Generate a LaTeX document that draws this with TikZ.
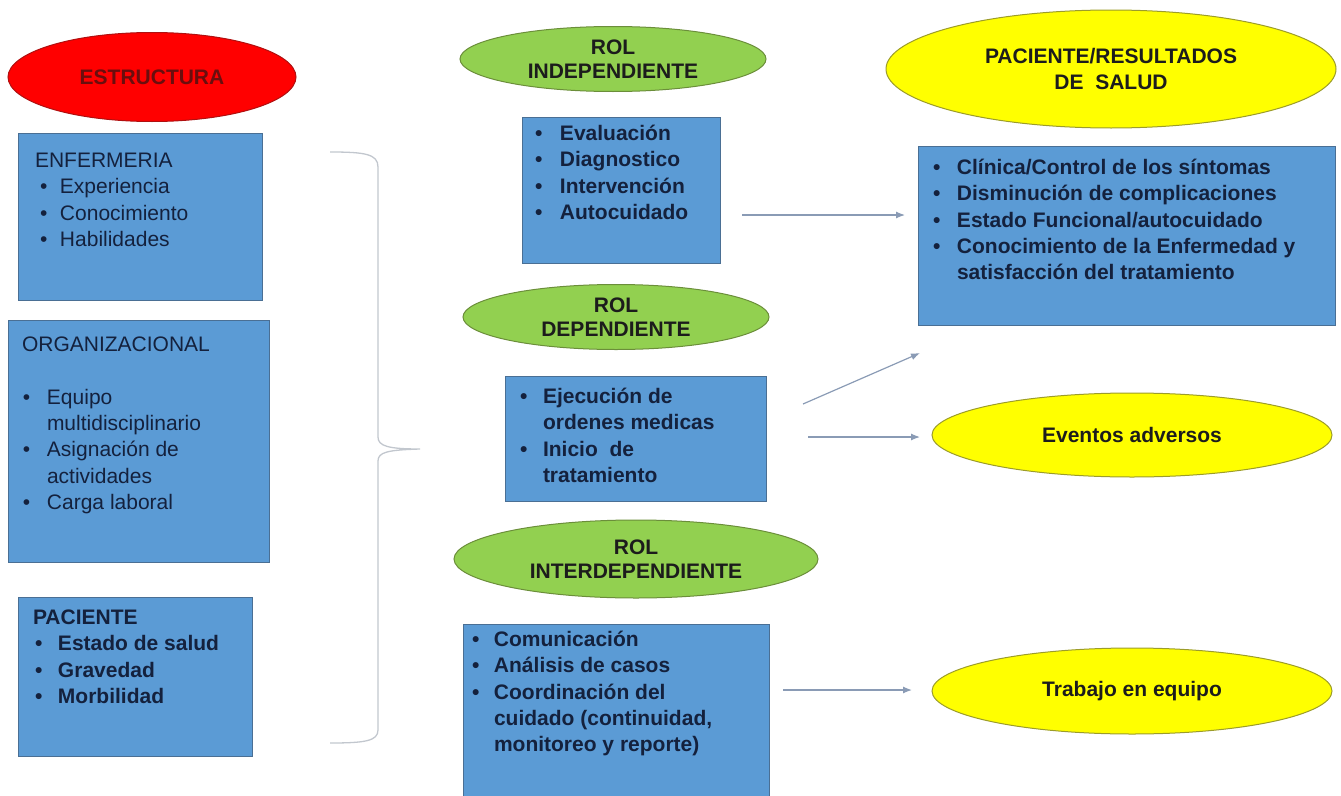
\documentclass[tikz,border=0pt]{standalone}
\usepackage{fontspec}
\setmainfont{Liberation Sans}
\usetikzlibrary{shapes.geometric,arrows.meta}
\definecolor{boxblue}{HTML}{5B9BD5}
\definecolor{boxedge}{HTML}{4A6F94}
\definecolor{navy}{HTML}{14213D}
\definecolor{lgreen}{HTML}{92D050}
\definecolor{dgreen}{HTML}{6B8E3A}
\definecolor{yell}{HTML}{FFFF00}
\definecolor{yedge}{HTML}{9C9C2A}
\definecolor{redfill}{HTML}{FF0000}
\definecolor{redge}{HTML}{B01010}
\definecolor{redink}{HTML}{6A0E0E}
\definecolor{ellink}{HTML}{1C1C1C}
\definecolor{arrowgray}{HTML}{8A9BB5}
\definecolor{bracegray}{HTML}{C2C7CE}
\newlength\bulin
\newlength\bgap
\newcommand\bi[1]{\hspace*{\bulin}\makebox[\bgap][l]{\textbullet}#1}
\newcommand\bc[1]{\hspace*{\dimexpr\bulin+\bgap\relax}#1}
\begin{document}
\begin{tikzpicture}[x=1pt,y=-1pt,
  every node/.style={inner sep=0pt,outer sep=0pt},
  bluebox/.style={draw=boxedge,fill=boxblue,line width=0.8pt,anchor=north west},
  btext/.style 2 args={anchor=north west,align=left,text=navy,
    font=\fontsize{21}{26.3}\selectfont,
    execute at begin node={\setlength{\bulin}{#1}\setlength{\bgap}{#2}}},
  bbtext/.style 2 args={btext={#1}{#2},font=\fontsize{21}{26.3}\selectfont\bfseries},
  ell/.style={ellipse,line width=1pt,align=center,text=ellink,
    font=\fontsize{21}{24}\selectfont\bfseries},
  greenell/.style={ell,fill=lgreen,draw=dgreen},
  yellell/.style={ell,fill=yell,draw=yedge},
  redell/.style={ell,fill=redfill,draw=redge,text=redink},
  arr/.style={draw=arrowgray,line width=1.2pt,-{Latex[length=9pt,width=7pt]}},
  bracestyle/.style={draw=bracegray,line width=1.3pt}
]
\useasboundingbox (0,0) rectangle (1341,795);

% left column
\node[redell,minimum width=288pt,minimum height=89pt] (estr) at (152,77) {ESTRUCTURA};

\node[bluebox,minimum width=244pt,minimum height=167pt] (enf) at (18,133) {};
\node[btext={5pt}{20pt}] (enft) at (35,153)
  {ENFERMERIA\\\bi{Experiencia}\\\bi{Conocimiento}\\\bi{Habilidades}};

\node[bluebox,minimum width=261pt,minimum height=242pt] (org) at (8,320) {};
\node[btext={1pt}{24pt}] (orgt) at (22,337)
  {ORGANIZACIONAL\\[26.3pt]\bi{Equipo}\\\bc{multidisciplinario}\\\bi{Asignación de}\\\bc{actividades}\\\bi{Carga laboral}};

\node[bluebox,minimum width=234pt,minimum height=159pt] (pac) at (18,597) {};
\node[bbtext={2pt}{23pt}] (pact) at (33,610)
  {PACIENTE\\\bi{Estado de salud}\\\bi{Gravedad}\\\bi{Morbilidad}};

% brace
\coordinate (btop) at (330,152);
\coordinate (btip) at (420,449);
\coordinate (bbot) at (330,743);
\draw[bracestyle] (btop) .. controls (365,152) and (378,154) .. (378,167) -- (378,437)
  .. controls (378,446) and (388,449) .. (btip)
  .. controls (388,450) and (378,452) .. (378,461) -- (378,730)
  .. controls (378,741) and (365,743) .. (bbot);

% middle column
\node[greenell,minimum width=306pt,minimum height=65pt] (rind) at (613,59) {ROL\\INDEPENDIENTE};
\node[bluebox,minimum width=198pt,minimum height=146pt] (ind) at (522,117) {};
\node[bbtext={0pt}{25pt}] (indt) at (535,125)
  {\bi{Evaluación}\\\bi{Diagnostico}\\\bi{Intervención}\\\bi{Autocuidado}};

\node[greenell,minimum width=306pt,minimum height=65pt] (rdep) at (616,317) {ROL\\DEPENDIENTE};
\node[bluebox,minimum width=261pt,minimum height=125pt] (dep) at (505,376) {};
\node[bbtext={0pt}{23pt}] (dept) at (520,388)
  {\bi{Ejecución de}\\\bc{ordenes medicas}\\\bi{Inicio\ \ de}\\\bc{tratamiento}};

\node[greenell,minimum width=364pt,minimum height=78pt] (rint) at (636,559) {ROL\\INTERDEPENDIENTE};
\node[bluebox,minimum width=306pt,minimum height=174pt] (inter) at (463,624) {};
\node[bbtext={0pt}{22pt}] (intert) at (472,631)
  {\bi{Comunicación}\\\bi{Análisis de casos}\\\bi{Coordinación del}\\\bc{cuidado (continuidad,}\\\bc{monitoreo y reporte)}};

% right column
\node[yellell,minimum width=450pt,minimum height=118pt,font=\fontsize{21}{26}\selectfont\bfseries] (pres) at (1111,69)
  {PACIENTE/RESULTADOS\\DE\ \ SALUD};
\node[bluebox,minimum width=417pt,minimum height=179pt] (res) at (918,146) {};
\node[bbtext={0pt}{24pt}] (rest) at (933,159)
  {\bi{Clínica/Control de los síntomas}\\\bi{Disminución de complicaciones}\\\bi{Estado Funcional/autocuidado}\\\bi{Conocimiento de la Enfermedad y}\\\bc{satisfacción del tratamiento}};

\node[yellell,minimum width=400pt,minimum height=84pt] (evt) at (1132,435) {Eventos adversos};
\node[yellell,minimum width=400pt,minimum height=86pt] (trab) at (1132,691) {Trabajo en equipo};

% arrows
\coordinate (a1s) at (742,215);  \coordinate (a1e) at (905,215);
\coordinate (a2s) at (803,404);  \coordinate (a2e) at (920,353);
\coordinate (a3s) at (808,437);  \coordinate (a3e) at (920,437);
\coordinate (a4s) at (783,690);  \coordinate (a4e) at (912,690);
\draw[arr] (a1s) -- (a1e);
\draw[arr] (a2s) -- (a2e);
\draw[arr] (a3s) -- (a3e);
\draw[arr] (a4s) -- (a4e);
\end{tikzpicture}
\end{document}
